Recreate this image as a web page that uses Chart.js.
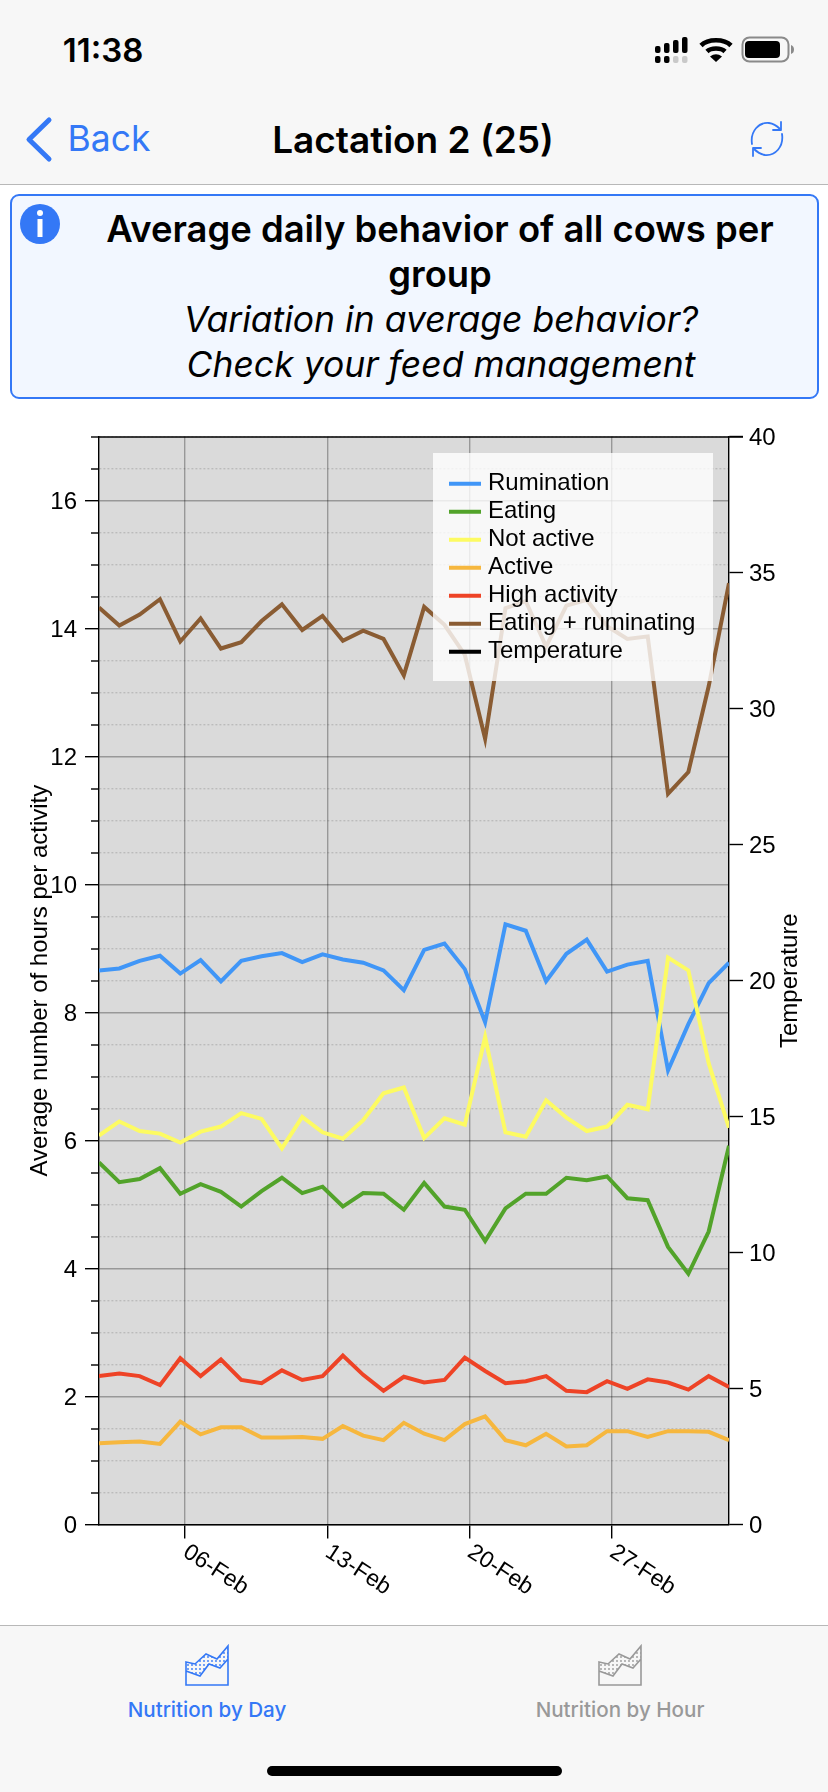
<!DOCTYPE html>
<html><head><meta charset="utf-8">
<script src="https://cdn.jsdelivr.net/npm/chart.js@4"></script>
<style>
html,body{margin:0;padding:0;background:#fff;width:828px;height:1792px;overflow:hidden;font-family:Inter,"Liberation Sans",sans-serif}
.a{position:absolute}
.t{position:absolute;white-space:nowrap;line-height:1;transform:translate(-50%,-50%)}
canvas{position:absolute;left:0;top:410px}
</style></head><body>
<div class="a" style="left:0;top:0;width:828px;height:184px;background:#f7f7f7;border-bottom:1px solid #b8b8b8"></div>
<div class="t" style="left:103px;top:50px;font-size:33px;font-weight:600;color:#000">11:38</div>
<svg class="a" style="left:640px;top:20px" width="170" height="60" viewBox="0 0 170 60">
<g fill="#000"><rect x="15" y="26" width="5.5" height="7" rx="2"/><rect x="24" y="23" width="5.5" height="10" rx="2"/><rect x="33" y="20" width="5.5" height="13" rx="2"/><rect x="42" y="17" width="5.5" height="16" rx="2"/>
<rect x="15" y="36" width="5.5" height="7" rx="2"/><rect x="24" y="36" width="5.5" height="7" rx="2"/></g>
<g fill="#c9c9c9"><rect x="33" y="36" width="5.5" height="7" rx="2"/><rect x="42" y="36" width="5.5" height="7" rx="2"/></g>
<g fill="none" stroke="#000" stroke-width="4.6"><path d="M61 25.5C68 18.5 84 18.5 91 25.5"/><path d="M67 31.5C71 27.5 81 27.5 85 31.5"/></g><path d="M70 36.5Q76 32 82 36.5L76 42Z" fill="#000"/>
<rect x="102.5" y="17.5" width="46" height="24" rx="7" fill="none" stroke="#8a8a8a" stroke-width="2"/><rect x="105" y="21" width="35" height="17" rx="4" fill="#000"/><path d="M151 25q3 1 3 4.500t-3 4.500z" fill="#8a8a8a"/>
</svg>
<svg class="a" style="left:0;top:100px" width="70" height="80"><path d="M49 20L29 39.500L49 59" fill="none" stroke="#3478f6" stroke-width="5" stroke-linecap="round" stroke-linejoin="round"/></svg>
<div class="t" style="left:109px;top:139px;font-size:35.500px;color:#3478f6;font-weight:400">Back</div>
<div class="t" style="left:413px;top:139px;font-size:37px;font-weight:600;color:#000">Lactation 2 (25)</div>
<svg class="a" style="left:745px;top:117px" width="44" height="44" viewBox="0 0 44 44"><g fill="none" stroke="#3478f6" stroke-width="1.800" stroke-linecap="round" stroke-linejoin="round"><path d="M7 27C5 14 14 5 24 6C28 6.500 32 9 35 12"/><path d="M36 5L36 13L28 13"/><path d="M37 17C39 30 30 39 20 38C16 37.500 12 35 9 32"/><path d="M8 39L8 31L16 31"/></g></svg>

<div class="a" style="left:10px;top:194px;width:805px;height:201px;background:#f2f7ff;border:2px solid #3478f6;border-radius:9px"></div>
<svg class="a" style="left:20px;top:204px" width="40" height="40"><circle cx="20" cy="20" r="20" fill="#3478f6"/><rect x="17.500" y="15" width="5" height="18" fill="#fff"/><circle cx="20" cy="9" r="3" fill="#fff"/></svg>
<div class="t" style="left:440px;top:229px;font-size:36.400px;font-weight:600;color:#000">Average daily behavior of all cows per</div>
<div class="t" style="left:440px;top:274px;font-size:36.400px;font-weight:600;color:#000">group</div>
<div class="t" style="left:441px;top:320px;font-size:35.500px;font-style:italic;color:#000">Variation in average behavior?</div>
<div class="t" style="left:441px;top:365px;font-size:35.500px;font-style:italic;color:#000">Check your feed management</div>

<canvas id="c" width="828" height="1215" style="width:828px;height:1215px"></canvas>

<div class="a" style="left:0;top:1625px;width:828px;height:167px;background:#f7f7f7;border-top:1px solid #b8b8b8"></div>
<svg class="a" style="left:170px;top:1635px" width="70" height="60" viewBox="0 0 70 60"><defs><pattern id="p1" width="4" height="4" patternUnits="userSpaceOnUse"><circle cx="2" cy="2" r=".9" fill="#3478f6"/></pattern></defs>
<path d="M16 27L25 29L36 19L47 24L58 11L58 24L50 33L39 29L30 41L16 36Z" fill="url(#p1)"/>
<path d="M16 27L25 29L36 19L47 24L58 11V50H16ZM16 36L30 41L39 29L50 33L58 24" fill="none" stroke="#3478f6" stroke-width="1.600"/></svg>
<svg class="a" style="left:583px;top:1635px" width="70" height="60" viewBox="0 0 70 60"><defs><pattern id="p2" width="4" height="4" patternUnits="userSpaceOnUse"><circle cx="2" cy="2" r=".9" fill="#999"/></pattern></defs>
<path d="M16 27L25 29L36 19L47 24L58 11L58 24L50 33L39 29L30 41L16 36Z" fill="url(#p2)"/>
<path d="M16 27L25 29L36 19L47 24L58 11V50H16ZM16 36L30 41L39 29L50 33L58 24" fill="none" stroke="#999" stroke-width="1.600"/></svg>
<div class="t" style="left:207px;top:1710px;font-size:20.600px;font-weight:500;color:#3478f6">Nutrition by Day</div>
<div class="t" style="left:620px;top:1710px;font-size:20.600px;font-weight:500;color:#999">Nutrition by Hour</div>
<div class="a" style="left:267px;top:1766px;width:295px;height:10px;background:#000;border-radius:5px"></div>

<script>
// February day position of each daily point
const days = [1.76,2.76,3.76,4.76,5.76,6.76,7.76,8.76,9.76,10.76,11.76,12.76,13.76,14.76,15.76,16.76,17.76,18.76,19.76,20.76,21.76,22.76,23.76,24.76,25.76,26.76,27.76,28.76,29.76,30.76,31.76,32.76];
const rumination = [8.66,8.69,8.81,8.89,8.61,8.82,8.49,8.81,8.88,8.93,8.79,8.91,8.83,8.78,8.66,8.35,8.98,9.08,8.68,7.85,9.38,9.28,8.49,8.92,9.14,8.64,8.75,8.81,7.10,7.82,8.46,8.78];
const eating = [5.66,5.35,5.40,5.57,5.17,5.32,5.20,4.97,5.21,5.42,5.18,5.28,4.97,5.18,5.17,4.92,5.34,4.97,4.92,4.43,4.94,5.17,5.17,5.42,5.38,5.44,5.10,5.07,4.34,3.92,4.58,5.92];
const notActive = [6.08,6.30,6.15,6.11,5.97,6.14,6.22,6.43,6.34,5.88,6.37,6.13,6.03,6.32,6.74,6.83,6.04,6.35,6.25,7.62,6.13,6.06,6.63,6.36,6.15,6.22,6.56,6.49,8.86,8.66,7.21,6.20];
const active = [1.27,1.285,1.30,1.26,1.61,1.41,1.52,1.52,1.36,1.36,1.37,1.34,1.54,1.39,1.32,1.59,1.42,1.32,1.57,1.69,1.32,1.24,1.42,1.22,1.24,1.46,1.46,1.37,1.46,1.46,1.45,1.32];
const highActivity = [2.32,2.36,2.32,2.18,2.60,2.32,2.58,2.26,2.21,2.41,2.26,2.32,2.64,2.34,2.09,2.31,2.22,2.26,2.61,2.40,2.21,2.24,2.32,2.09,2.07,2.24,2.12,2.27,2.22,2.11,2.32,2.15];
const eatingRuminating = [14.33,14.05,14.22,14.46,13.80,14.16,13.69,13.79,14.12,14.38,13.98,14.20,13.81,13.97,13.84,13.27,14.34,14.06,13.59,12.28,14.32,14.43,13.72,14.36,14.45,14.04,13.84,13.88,11.42,11.76,13.10,14.71];
const temperature = [];
const seriesNames = ['Rumination','Eating','Not active','Active','High activity','Eating + ruminating','Temperature'];
const seriesColors = ['#4096f7','#52a32a','#fdfb62','#f6b73e','#ee4326','#8a5c33','#000000'];
const seriesValues = [rumination,eating,notActive,active,highActivity,eatingRuminating,temperature];
const tickDays = [6,13,20,27];
const tickLabels = ['06-Feb','13-Feb','20-Feb','27-Feb'];
const FONT = '"Liberation Sans",Helvetica,Arial,sans-serif';

const decor = {
  id:'decor',
  beforeLayout(chart){
    const lg = chart.legend;
    if(lg) lg._layers = () => [{z:5,draw(a){
      const c=chart.ctx; c.save(); c.fillStyle='rgba(255,255,255,0.8)'; c.fillRect(433,43,280,228); c.restore();
      const protoRect = CanvasRenderingContext2D.prototype.rect;
      c.rect = (x,y,w,h) => protoRect.call(c,x,y,w+5,h);
      lg.draw(a);
      delete c.rect;
    }}];
  },
  afterLayout(chart){
    const lg = chart.legend;
    if(lg) Object.assign(lg,{left:445,right:713,top:57.7,bottom:271});
    const xs = chart.scales.x;
    xs._getXAxisLabelAlignment = () => 'left';
    xs._labelItems = null;
    ['y','y2'].forEach(k=>{
      const s = chart.scales[k], orig = s.constructor.prototype._computeLabelItems;
      s._computeLabelItems = function(a){
        const items = orig.call(this,a);
        items.forEach(i=>{i.options.translation=[i.options.translation[0],i.options.translation[1]+2];});
        return items;
      };
      s._labelItems = null;
    });
    const y2 = chart.scales.y2;
    y2.drawTitle = function(){
      const c=this.ctx;
      c.save(); c.translate(790.5,(this.top+this.bottom)/2); c.rotate(-Math.PI/2);
      c.font='24px '+FONT; c.textAlign='center'; c.textBaseline='middle'; c.fillStyle='#000';
      c.fillText(this.options.title.text,0,0); c.restore();
    };
  },
  beforeDraw(chart){
    const {ctx,chartArea:a} = chart;
    ctx.save(); ctx.fillStyle='#dadada'; ctx.fillRect(a.left,a.top,a.right-a.left,a.bottom-a.top); ctx.restore();
  },
  afterDraw(chart){
    const {ctx,chartArea:a,scales} = chart;
    ctx.save(); ctx.strokeStyle='#000'; ctx.lineWidth=1.4;
    scales.y.ticks.forEach(t=>{
      if(t.value%2===0) return;
      const p=Math.round(scales.y.getPixelForValue(t.value));
      ctx.beginPath(); ctx.moveTo(a.left-8,p); ctx.lineTo(a.left,p); ctx.stroke();
    });
    ctx.beginPath(); ctx.moveTo(a.left,Math.round(a.top)); ctx.lineTo(a.right+14,Math.round(a.top)); ctx.stroke();
    ctx.restore();
  }
};

new Chart(document.getElementById('c'),{
  type:'line',
  plugins:[decor],
  data:{datasets:seriesNames.map((n,i)=>({
    label:n,
    data:seriesValues[i].map((v,k)=>({x:days[k],y:v})),
    borderColor:seriesColors[i],backgroundColor:seriesColors[i],
    borderWidth:4,pointRadius:0,tension:0,fill:false,order:10-i,
    yAxisID:n==='Temperature'?'y2':'y'
  }))},
  options:{
    responsive:false,animation:false,events:[],
    devicePixelRatio:window.devicePixelRatio||1,
    layout:{padding:{top:26.7,left:0,right:0,bottom:0}},
    plugins:{
      tooltip:{enabled:false},title:{display:false},
      legend:{display:true,position:'chartArea',align:'start',
        labels:{boxWidth:27,boxHeight:4,padding:4,color:'#000',font:{family:FONT,size:24},
          sort:(a,b)=>a.datasetIndex-b.datasetIndex,
          generateLabels(chart){
            return Chart.defaults.plugins.legend.labels.generateLabels(chart).map(l=>({...l,lineWidth:0}));
          }}}
    },
    scales:{
      x:{type:'linear',min:1.76,max:32.76,
        afterBuildTicks(s){s.ticks=tickDays.map(v=>({value:v}));},
        afterFit(s){s.height=100.4;},
        ticks:{autoSkip:false,minRotation:-33,maxRotation:-33,padding:0,color:'#000',font:{family:FONT,size:23},
          callback:v=>tickLabels[tickDays.indexOf(v)]||''},
        grid:{color:'rgba(0,0,0,0.3)',lineWidth:1.4,tickLength:14,tickColor:'#000',tickWidth:1.4},
        border:{color:'#000',width:1.4}
      },
      y:{type:'linear',position:'left',min:0,max:17,
        afterFit(s){s.width=99;},
        title:{display:true,text:'Average number of hours per activity',color:'#000',font:{family:FONT,size:24},padding:{top:25.6,bottom:0}},
        ticks:{stepSize:0.5,autoSkip:false,padding:8,color:'#000',font:{family:FONT,size:24},
          callback:v=>(v%2===0&&v>0?String(v):(v===0?'0':''))},
        grid:{
          color:c=>c.tick.value%2===0?'rgba(0,0,0,0.3)':'rgba(0,0,0,0.14)',
          lineWidth:1.4,tickLength:14,
          tickColor:c=>c.tick.value%2===0?'#000':'rgba(0,0,0,0)',tickWidth:1.4},
        border:{color:'#000',width:1.4,dash:c=>c.tick&&c.tick.value%2!==0?[2,2]:[]}
      },
      y2:{type:'linear',position:'right',min:0,max:40,
        afterFit(s){s.width=99;},
        title:{display:true,text:'Temperature',color:'#000',font:{family:FONT,size:24},padding:{top:23.6,bottom:0}},
        ticks:{stepSize:5,padding:6,color:'#000',font:{family:FONT,size:24}},
        grid:{drawOnChartArea:false,tickLength:14,tickColor:'#000',tickWidth:1.4},
        border:{color:'#000',width:1.4}
      }
    }
  }
});
</script>
</body></html>
